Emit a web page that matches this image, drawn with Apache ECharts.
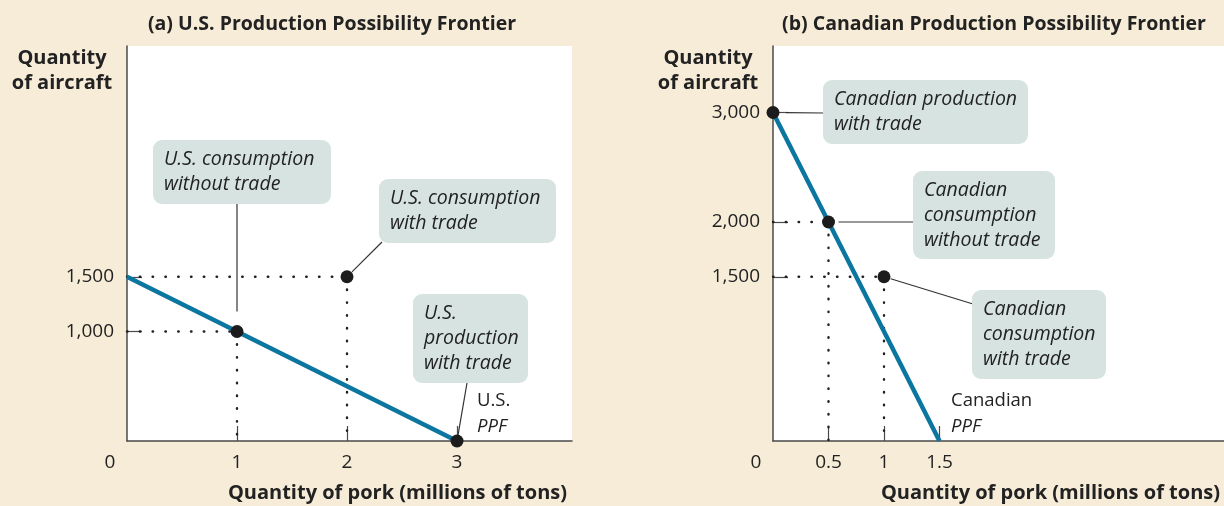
<!DOCTYPE html>
<html>
<head>
<meta charset="utf-8">
<script src="https://cdn.jsdelivr.net/npm/echarts@6/dist/echarts.min.js"></script>
<style>
  html, body { margin: 0; padding: 0; background: #f6ecd8; }
  #main { width: 1224px; height: 506px; }
</style>
</head>
<body>
<div id="main"></div>
<script>
// frontier end points and marked points (pork in millions of tons, aircraft)
var usPPF = [[0, 1500], [3, 0]];
var caPPF = [[0, 3000], [1.5, 0]];
var usPoints = [[1, 1000], [2, 1500], [3, 0]];
var caPoints = [[0, 3000], [0.5, 2000], [1, 1500]];

var usXTicks = [1, 2, 3];
var usYTicks = [1000, 1500];
var caXTicks = [0.5, 1, 1.5];
var caYTicks = [1500, 2000, 3000];

var usNotes = ['U.S. consumption\nwithout trade', 'U.S. consumption\nwith trade', 'U.S.\nproduction\nwith trade'];
var caNotes = ['Canadian production\nwith trade', 'Canadian\nconsumption\nwithout trade', 'Canadian\nconsumption\nwith trade'];

var titles = ['(a) U.S. Production Possibility Frontier', '(b) Canadian Production Possibility Frontier'];

var FONT = 'Open Sans';
var BLUE = '#0b76a0', INK = '#1c1c1c', AXIS = '#4a4a4a', BOX = '#d6e3e0', TXT = '#222';

var chart = echarts.init(document.getElementById('main'));

function fmt(v) { return v.toLocaleString('en-US'); }

function xAxis(idx, max, ticks) {
  return {
    type: 'value', gridIndex: idx, min: 0, max: max,
    axisLine: { show: true, onZero: false, lineStyle: { color: AXIS, width: 1.5 } },
    axisTick: { show: true, inside: true, length: 15, customValues: ticks, lineStyle: { color: AXIS, width: 1.2 } },
    axisLabel: { customValues: ticks, margin: 12, color: TXT, fontFamily: FONT, fontSize: 19, formatter: fmt },
    splitLine: { show: false }
  };
}
function yAxis(idx, max, ticks) {
  return {
    type: 'value', gridIndex: idx, min: 0, max: max,
    axisLine: { show: true, onZero: false, lineStyle: { color: AXIS, width: 1.5 } },
    axisTick: { show: true, inside: true, length: 15, customValues: ticks, lineStyle: { color: AXIS, width: 1.2 } },
    axisLabel: { customValues: ticks, margin: 13, color: TXT, fontFamily: FONT, fontSize: 19, formatter: fmt },
    splitLine: { show: false }
  };
}

// dotted guides from each interior point to both axes
function guides(points, idx) {
  var out = [];
  points.forEach(function (p) {
    if (p[0] > 0 && p[1] > 0) {
      [[[0, p[1]], p], [p, [p[0], 0]]].forEach(function (seg) {
        out.push({
          type: 'line', xAxisIndex: idx, yAxisIndex: idx, data: seg, symbol: 'none', silent: true, z: 2,
          lineStyle: { color: '#222', width: 2.4, type: [0.5, 12.3], cap: 'round' }
        });
      });
    }
  });
  return out;
}

var series = [].concat(guides(usPoints, 0), guides(caPoints, 1), [
  { type: 'line', xAxisIndex: 0, yAxisIndex: 0, data: usPPF, symbol: 'none', z: 3, lineStyle: { color: BLUE, width: 4.5 } },
  { type: 'line', xAxisIndex: 1, yAxisIndex: 1, data: caPPF, symbol: 'none', z: 3, lineStyle: { color: BLUE, width: 4.5 } },
  { type: 'scatter', xAxisIndex: 0, yAxisIndex: 0, data: usPoints, symbolSize: 13, z: 5, itemStyle: { color: INK, opacity: 1 } },
  { type: 'scatter', xAxisIndex: 1, yAxisIndex: 1, data: caPoints, symbolSize: 13, z: 5, itemStyle: { color: INK, opacity: 1 } }
]);

var titleStyle = { fontFamily: FONT, fontSize: 19.5, fontWeight: 'bold', color: TXT };

chart.setOption({
  backgroundColor: '#f6ecd8',
  animation: false,
  title: [
    { text: titles[0], left: 327, top: 9, textAlign: 'center', textStyle: titleStyle },
    { text: titles[1], left: 989, top: 9, textAlign: 'center', textStyle: titleStyle }
  ],
  grid: [
    { left: 127, top: 46, width: 445, height: 395, show: true, backgroundColor: '#fff', borderWidth: 0 },
    { left: 773, top: 46, width: 451, height: 395, show: true, backgroundColor: '#fff', borderWidth: 0 }
  ],
  xAxis: [xAxis(0, 445 / 110, usXTicks), xAxis(1, 451 / 111, caXTicks)],
  yAxis: [yAxis(0, 395 / 0.1095, usYTicks), yAxis(1, 395 / 0.1095, caYTicks)],
  series: series
});

// annotation boxes with leader lines to the points
var layoutUS = [
  { box: [153, 140, 178, 64], from: [237, 204], gap: 20 },
  { box: [379, 179, 177, 64], from: [382, 242], gap: 7 },
  { box: [413, 294, 115, 89], from: [467, 383], gap: 5 }
];
var layoutCA = [
  { box: [823, 80, 205, 64], from: [823, 113], gap: 13 },
  { box: [913, 171, 142, 88], from: [913, 222], gap: 10 },
  { box: [972, 290, 134, 89], from: [973, 304], gap: 7 }
];

var g = [];
function notes(texts, layout, points, idx) {
  texts.forEach(function (t, i) {
    var L = layout[i], b = L.box;
    var p = chart.convertToPixel({ gridIndex: idx }, points[i]);
    var dx = p[0] - L.from[0], dy = p[1] - L.from[1], d = Math.sqrt(dx * dx + dy * dy);
    var k = (d - L.gap) / d;
    g.push({ type: 'line', z: 4, silent: true,
      shape: { x1: L.from[0], y1: L.from[1], x2: L.from[0] + dx * k, y2: L.from[1] + dy * k },
      style: { stroke: '#333', lineWidth: 1.2 } });
    g.push({ type: 'rect', z: 5, shape: { x: b[0], y: b[1], width: b[2], height: b[3], r: 9 }, style: { fill: BOX } });
    g.push({ type: 'text', z: 6, x: b[0] + 11, y: b[1] + b[3] / 2,
      style: { text: t, fontFamily: FONT, fontSize: 19.5, fontStyle: 'italic', fill: TXT,
        lineHeight: 25, textAlign: 'left', textVerticalAlign: 'middle' } });
  });
}
notes(usNotes, layoutUS, usPoints, 0);
notes(caNotes, layoutCA, caPoints, 1);

// PPF labels, origin zeros and axis names
function ppfLabel(name, x, y) {
  g.push({ type: 'text', z: 6, x: x, y: y, style: { text: name, fontFamily: FONT, fontSize: 18.5, fill: TXT, textVerticalAlign: 'middle' } });
  g.push({ type: 'text', z: 6, x: x, y: y + 26, style: { text: 'PPF', fontFamily: FONT, fontSize: 18.5, fontStyle: 'italic', fill: TXT, textVerticalAlign: 'middle' } });
}
ppfLabel('U.S.', 477, 401);
ppfLabel('Canadian', 951, 401);

[0, 1].forEach(function (idx) {
  var o = chart.convertToPixel({ gridIndex: idx }, [0, 0]);
  g.push({ type: 'text', x: o[0] - 17, y: o[1] + 22, style: { text: '0', fontFamily: FONT, fontSize: 19, fill: TXT, textAlign: 'center', textVerticalAlign: 'middle' } });
  g.push({ type: 'text', x: o[0] - 65, y: 70.5, style: { text: 'Quantity\nof aircraft', fontFamily: FONT, fontSize: 20, fontWeight: 'bold', lineHeight: 25, fill: TXT, textAlign: 'center', textVerticalAlign: 'middle' } });
});
g.push({ type: 'text', x: 567, y: 493, style: { text: 'Quantity of pork (millions of tons)', fontFamily: FONT, fontSize: 20, fontWeight: 'bold', fill: TXT, textAlign: 'right', textVerticalAlign: 'middle' } });
g.push({ type: 'text', x: 1220, y: 493, style: { text: 'Quantity of pork (millions of tons)', fontFamily: FONT, fontSize: 20, fontWeight: 'bold', fill: TXT, textAlign: 'right', textVerticalAlign: 'middle' } });

chart.setOption({ graphic: g });
</script>
</body>
</html>
